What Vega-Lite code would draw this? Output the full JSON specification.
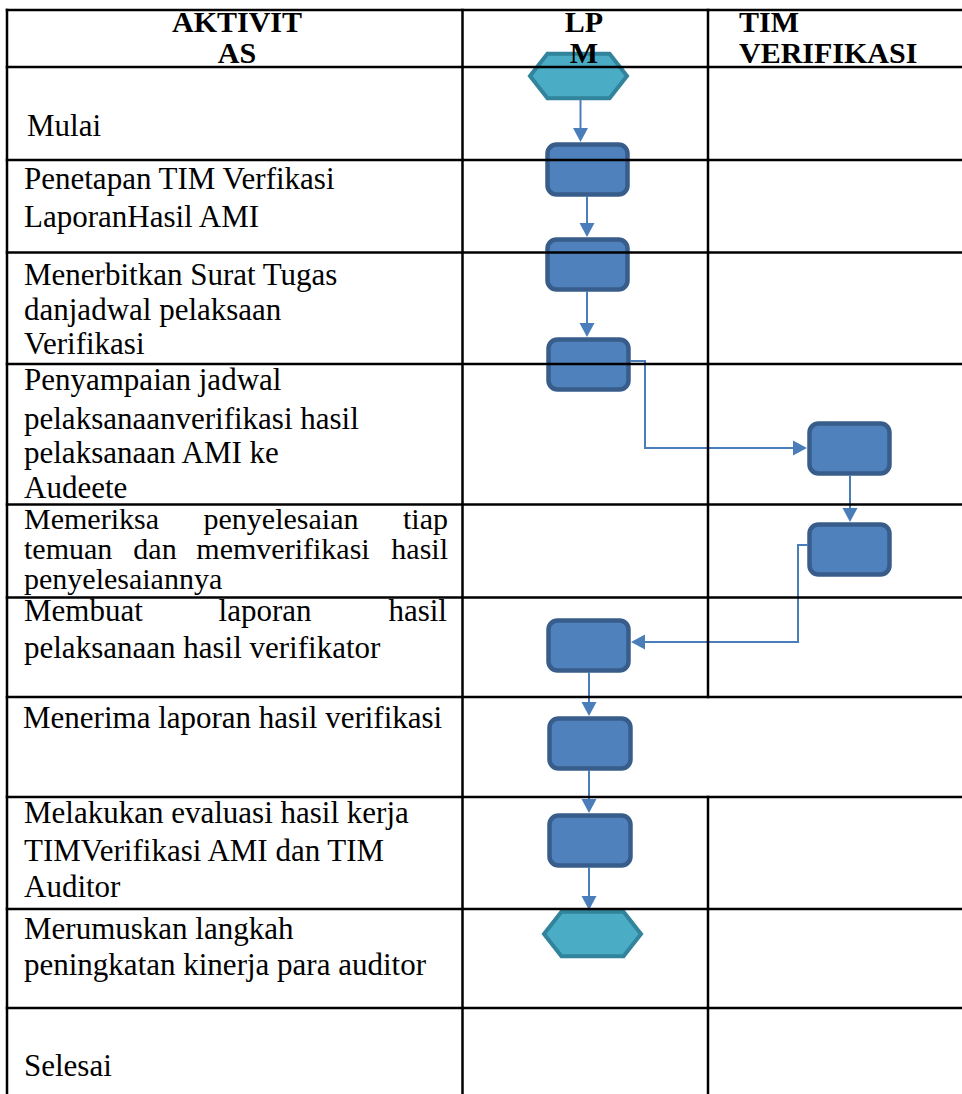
{
  "$schema": "https://vega.github.io/schema/vega-lite/v6.json",
  "width": 962,
  "height": 1094,
  "padding": 0,
  "autosize": {"type": "none"},
  "background": "white",
  "config": {"view": {"stroke": null}, "text": {"font": "'Liberation Serif', 'Times New Roman', Times, serif"}},
  "datasets": {
    "boxes": [
      {"step": "Penetapan", "x": 547.5, "x2": 627.5, "y": 144.5, "y2": 194.5},
      {"step": "Menerbitkan", "x": 547.5, "x2": 627.5, "y": 239.5, "y2": 289.5},
      {"step": "Penyampaian", "x": 548.5, "x2": 628.5, "y": 339.5, "y2": 389.5},
      {"step": "TIM 1", "x": 809.5, "x2": 889.5, "y": 423.5, "y2": 473.5},
      {"step": "TIM 2", "x": 809.5, "x2": 889.5, "y": 524.5, "y2": 574.5},
      {"step": "Membuat", "x": 548.5, "x2": 628.5, "y": 620.5, "y2": 670.5},
      {"step": "Menerima", "x": 549.5, "x2": 630.5, "y": 718.5, "y2": 768.5},
      {"step": "Melakukan", "x": 549.5, "x2": 630.5, "y": 815.5, "y2": 865.5}
    ],
    "hexes": [
      {"step": "Mulai", "x": 578.5, "y": 76},
      {"step": "Selesai", "x": 592.5, "y": 934}
    ],
    "links": [
      {"x": 580.5, "y": 100, "x2": 580.5, "y2": 137},
      {"x": 587, "y": 197, "x2": 587, "y2": 233},
      {"x": 587, "y": 292, "x2": 587, "y2": 333},
      {"x": 631, "y": 361, "x2": 645, "y2": 361},
      {"x": 645, "y": 361, "x2": 645, "y2": 448},
      {"x": 645, "y": 448, "x2": 803, "y2": 448},
      {"x": 850, "y": 476, "x2": 850, "y2": 518},
      {"x": 807, "y": 545, "x2": 798, "y2": 545},
      {"x": 798, "y": 545, "x2": 798, "y2": 642},
      {"x": 798, "y": 642, "x2": 635, "y2": 642},
      {"x": 589, "y": 673, "x2": 589, "y2": 712},
      {"x": 589, "y": 771, "x2": 589, "y2": 809},
      {"x": 589, "y": 868, "x2": 589, "y2": 906}
    ],
    "heads": [
      {"dir": "down", "x": 580.5, "y": 135},
      {"dir": "down", "x": 587, "y": 230},
      {"dir": "down", "x": 587, "y": 330},
      {"dir": "right", "x": 800, "y": 448},
      {"dir": "down", "x": 850, "y": 515},
      {"dir": "left", "x": 638, "y": 642},
      {"dir": "down", "x": 589, "y": 709},
      {"dir": "down", "x": 589, "y": 806},
      {"dir": "down", "x": 589, "y": 903}
    ],
    "grid": [
      {"x": 7, "y": 10, "x2": 962, "y2": 10},
      {"x": 7, "y": 67, "x2": 962, "y2": 67},
      {"x": 7, "y": 160, "x2": 962, "y2": 160},
      {"x": 7, "y": 252.5, "x2": 962, "y2": 252.5},
      {"x": 7, "y": 364, "x2": 962, "y2": 364},
      {"x": 7, "y": 504.5, "x2": 962, "y2": 504.5},
      {"x": 7, "y": 597.5, "x2": 962, "y2": 597.5},
      {"x": 7, "y": 697, "x2": 962, "y2": 697},
      {"x": 7, "y": 797, "x2": 962, "y2": 797},
      {"x": 7, "y": 909, "x2": 962, "y2": 909},
      {"x": 7, "y": 1008, "x2": 962, "y2": 1008},
      {"x": 7, "y": 10, "x2": 7, "y2": 1094},
      {"x": 462.5, "y": 10, "x2": 462.5, "y2": 1094},
      {"x": 708, "y": 10, "x2": 708, "y2": 697},
      {"x": 708, "y": 797, "x2": 708, "y2": 1094}
    ],
    "labels": [
      {"role": "headC", "t": "AKTIVIT", "x": 237, "y": 32},
      {"role": "headC", "t": "AS", "x": 237, "y": 63},
      {"role": "headC", "t": "LP", "x": 584, "y": 32},
      {"role": "headC", "t": "M", "x": 584, "y": 63},
      {"role": "headL", "t": "TIM", "x": 739, "y": 32},
      {"role": "headL", "t": "VERIFIKASI", "x": 739, "y": 63},
      {"role": "body", "t": "Mulai", "x": 27, "y": 136},
      {"role": "body", "t": "Penetapan TIM Verfikasi", "x": 24, "y": 189},
      {"role": "body", "t": "LaporanHasil AMI", "x": 24, "y": 227},
      {"role": "body", "t": "Menerbitkan Surat Tugas", "x": 24, "y": 285},
      {"role": "body", "t": "danjadwal pelaksaan", "x": 24, "y": 320},
      {"role": "body", "t": "Verifikasi", "x": 24, "y": 354},
      {"role": "body", "t": "Penyampaian jadwal", "x": 24, "y": 390},
      {"role": "body", "t": "pelaksanaanverifikasi hasil", "x": 24, "y": 429},
      {"role": "body", "t": "pelaksanaan AMI ke", "x": 24, "y": 463},
      {"role": "body", "t": "Audeete", "x": 24, "y": 498},
      {"role": "small", "t": "Memeriksa", "x": 24, "y": 529},
      {"role": "smallC", "t": "penyelesaian", "x": 281, "y": 529},
      {"role": "smallR", "t": "tiap", "x": 448, "y": 529},
      {"role": "small", "t": "temuan", "x": 24, "y": 559},
      {"role": "smallC", "t": "dan", "x": 155, "y": 559},
      {"role": "smallC", "t": "memverifikasi", "x": 283, "y": 559},
      {"role": "smallR", "t": "hasil", "x": 448, "y": 559},
      {"role": "small", "t": "penyelesaiannya", "x": 24, "y": 589},
      {"role": "body", "t": "Membuat", "x": 24, "y": 621},
      {"role": "bodyC", "t": "laporan", "x": 265, "y": 621},
      {"role": "bodyR", "t": "hasil", "x": 447, "y": 621},
      {"role": "body", "t": "pelaksanaan hasil verifikator", "x": 24, "y": 658},
      {"role": "body", "t": "Menerima laporan hasil verifikasi", "x": 23, "y": 728},
      {"role": "body", "t": "Melakukan evaluasi hasil kerja", "x": 24, "y": 823},
      {"role": "body", "t": "TIMVerifikasi AMI dan TIM", "x": 24, "y": 861},
      {"role": "body", "t": "Auditor", "x": 24, "y": 897},
      {"role": "body", "t": "Merumuskan langkah", "x": 24, "y": 939},
      {"role": "body", "t": "peningkatan kinerja para auditor", "x": 24, "y": 975},
      {"role": "body", "t": "Selesai", "x": 24, "y": 1076}
    ]
  },
  "layer": [
    {
      "data": {"name": "boxes"},
      "mark": {"type": "rect", "cornerRadius": 9, "fill": "#4f81bd", "stroke": "#385d8a", "strokeWidth": 4.5},
      "encoding": {
        "x": {"field": "x", "type": "quantitative", "scale": {"domain": [0, 962], "nice": false, "zero": false}, "axis": null},
        "x2": {"field": "x2"},
        "y": {"field": "y", "type": "quantitative", "scale": {"domain": [0, 1094], "nice": false, "zero": false, "reverse": true}, "axis": null},
        "y2": {"field": "y2"}
      }
    },
    {
      "data": {"name": "hexes"},
      "mark": {"type": "point", "shape": "M -1 0 L -0.64 -0.46 L 0.64 -0.46 L 1 0 L 0.64 0.46 L -0.64 0.46 Z", "size": 9409, "filled": true, "fill": "#4bacc6", "stroke": "#31849b", "strokeWidth": 4, "opacity": 1},
      "encoding": {
        "x": {"field": "x", "type": "quantitative", "scale": {"domain": [0, 962], "nice": false, "zero": false}, "axis": null},
        "y": {"field": "y", "type": "quantitative", "scale": {"domain": [0, 1094], "nice": false, "zero": false, "reverse": true}, "axis": null}
      }
    },
    {
      "data": {"name": "links"},
      "mark": {"type": "rule", "color": "#4a7ebb", "strokeWidth": 2, "strokeCap": "square"},
      "encoding": {
        "x": {"field": "x", "type": "quantitative", "scale": {"domain": [0, 962], "nice": false, "zero": false}, "axis": null},
        "x2": {"field": "x2"},
        "y": {"field": "y", "type": "quantitative", "scale": {"domain": [0, 1094], "nice": false, "zero": false, "reverse": true}, "axis": null},
        "y2": {"field": "y2"}
      }
    },
    {
      "data": {"name": "heads"},
      "mark": {"type": "point", "size": 225, "filled": true, "color": "#4a7ebb", "strokeWidth": 0, "opacity": 1},
      "encoding": {
        "x": {"field": "x", "type": "quantitative", "scale": {"domain": [0, 962], "nice": false, "zero": false}, "axis": null},
        "y": {"field": "y", "type": "quantitative", "scale": {"domain": [0, 1094], "nice": false, "zero": false, "reverse": true}, "axis": null},
        "shape": {"field": "dir", "type": "nominal", "legend": null, "scale": {"domain": ["down", "right", "left"], "range": ["M -1 -0.93 L 1 -0.93 L 0 0.93 Z", "M -0.93 -1 L 0.93 0 L -0.93 1 Z", "M 0.93 -1 L -0.93 0 L 0.93 1 Z"]}}
      }
    },
    {
      "data": {"name": "grid"},
      "mark": {"type": "rule", "color": "#000000", "strokeWidth": 2.5, "strokeCap": "square"},
      "encoding": {
        "x": {"field": "x", "type": "quantitative", "scale": {"domain": [0, 962], "nice": false, "zero": false}, "axis": null},
        "x2": {"field": "x2"},
        "y": {"field": "y", "type": "quantitative", "scale": {"domain": [0, 1094], "nice": false, "zero": false, "reverse": true}, "axis": null},
        "y2": {"field": "y2"}
      }
    },
    {
      "data": {"name": "labels"},
      "transform": [{"filter": "datum.role === 'headC'"}],
      "mark": {"type": "text", "font": "'Liberation Serif', 'Times New Roman', Times, serif", "fontWeight": "bold", "fontSize": 30, "align": "center", "baseline": "alphabetic", "color": "#000000"},
      "encoding": {
        "x": {"field": "x", "type": "quantitative", "scale": {"domain": [0, 962], "nice": false, "zero": false}, "axis": null},
        "y": {"field": "y", "type": "quantitative", "scale": {"domain": [0, 1094], "nice": false, "zero": false, "reverse": true}, "axis": null},
        "text": {"field": "t", "type": "nominal"}
      }
    },
    {
      "data": {"name": "labels"},
      "transform": [{"filter": "datum.role === 'headL'"}],
      "mark": {"type": "text", "font": "'Liberation Serif', 'Times New Roman', Times, serif", "fontWeight": "bold", "fontSize": 30, "align": "left", "baseline": "alphabetic", "color": "#000000"},
      "encoding": {
        "x": {"field": "x", "type": "quantitative", "scale": {"domain": [0, 962], "nice": false, "zero": false}, "axis": null},
        "y": {"field": "y", "type": "quantitative", "scale": {"domain": [0, 1094], "nice": false, "zero": false, "reverse": true}, "axis": null},
        "text": {"field": "t", "type": "nominal"}
      }
    },
    {
      "data": {"name": "labels"},
      "transform": [{"filter": "datum.role === 'body'"}],
      "mark": {"type": "text", "font": "'Liberation Serif', 'Times New Roman', Times, serif", "fontSize": 31, "align": "left", "baseline": "alphabetic", "color": "#000000"},
      "encoding": {
        "x": {"field": "x", "type": "quantitative", "scale": {"domain": [0, 962], "nice": false, "zero": false}, "axis": null},
        "y": {"field": "y", "type": "quantitative", "scale": {"domain": [0, 1094], "nice": false, "zero": false, "reverse": true}, "axis": null},
        "text": {"field": "t", "type": "nominal"}
      }
    },
    {
      "data": {"name": "labels"},
      "transform": [{"filter": "datum.role === 'bodyC'"}],
      "mark": {"type": "text", "font": "'Liberation Serif', 'Times New Roman', Times, serif", "fontSize": 31, "align": "center", "baseline": "alphabetic", "color": "#000000"},
      "encoding": {
        "x": {"field": "x", "type": "quantitative", "scale": {"domain": [0, 962], "nice": false, "zero": false}, "axis": null},
        "y": {"field": "y", "type": "quantitative", "scale": {"domain": [0, 1094], "nice": false, "zero": false, "reverse": true}, "axis": null},
        "text": {"field": "t", "type": "nominal"}
      }
    },
    {
      "data": {"name": "labels"},
      "transform": [{"filter": "datum.role === 'bodyR'"}],
      "mark": {"type": "text", "font": "'Liberation Serif', 'Times New Roman', Times, serif", "fontSize": 31, "align": "right", "baseline": "alphabetic", "color": "#000000"},
      "encoding": {
        "x": {"field": "x", "type": "quantitative", "scale": {"domain": [0, 962], "nice": false, "zero": false}, "axis": null},
        "y": {"field": "y", "type": "quantitative", "scale": {"domain": [0, 1094], "nice": false, "zero": false, "reverse": true}, "axis": null},
        "text": {"field": "t", "type": "nominal"}
      }
    },
    {
      "data": {"name": "labels"},
      "transform": [{"filter": "datum.role === 'small'"}],
      "mark": {"type": "text", "font": "'Liberation Serif', 'Times New Roman', Times, serif", "fontSize": 30, "align": "left", "baseline": "alphabetic", "color": "#000000"},
      "encoding": {
        "x": {"field": "x", "type": "quantitative", "scale": {"domain": [0, 962], "nice": false, "zero": false}, "axis": null},
        "y": {"field": "y", "type": "quantitative", "scale": {"domain": [0, 1094], "nice": false, "zero": false, "reverse": true}, "axis": null},
        "text": {"field": "t", "type": "nominal"}
      }
    },
    {
      "data": {"name": "labels"},
      "transform": [{"filter": "datum.role === 'smallC'"}],
      "mark": {"type": "text", "font": "'Liberation Serif', 'Times New Roman', Times, serif", "fontSize": 30, "align": "center", "baseline": "alphabetic", "color": "#000000"},
      "encoding": {
        "x": {"field": "x", "type": "quantitative", "scale": {"domain": [0, 962], "nice": false, "zero": false}, "axis": null},
        "y": {"field": "y", "type": "quantitative", "scale": {"domain": [0, 1094], "nice": false, "zero": false, "reverse": true}, "axis": null},
        "text": {"field": "t", "type": "nominal"}
      }
    },
    {
      "data": {"name": "labels"},
      "transform": [{"filter": "datum.role === 'smallR'"}],
      "mark": {"type": "text", "font": "'Liberation Serif', 'Times New Roman', Times, serif", "fontSize": 30, "align": "right", "baseline": "alphabetic", "color": "#000000"},
      "encoding": {
        "x": {"field": "x", "type": "quantitative", "scale": {"domain": [0, 962], "nice": false, "zero": false}, "axis": null},
        "y": {"field": "y", "type": "quantitative", "scale": {"domain": [0, 1094], "nice": false, "zero": false, "reverse": true}, "axis": null},
        "text": {"field": "t", "type": "nominal"}
      }
    }
  ]
}
